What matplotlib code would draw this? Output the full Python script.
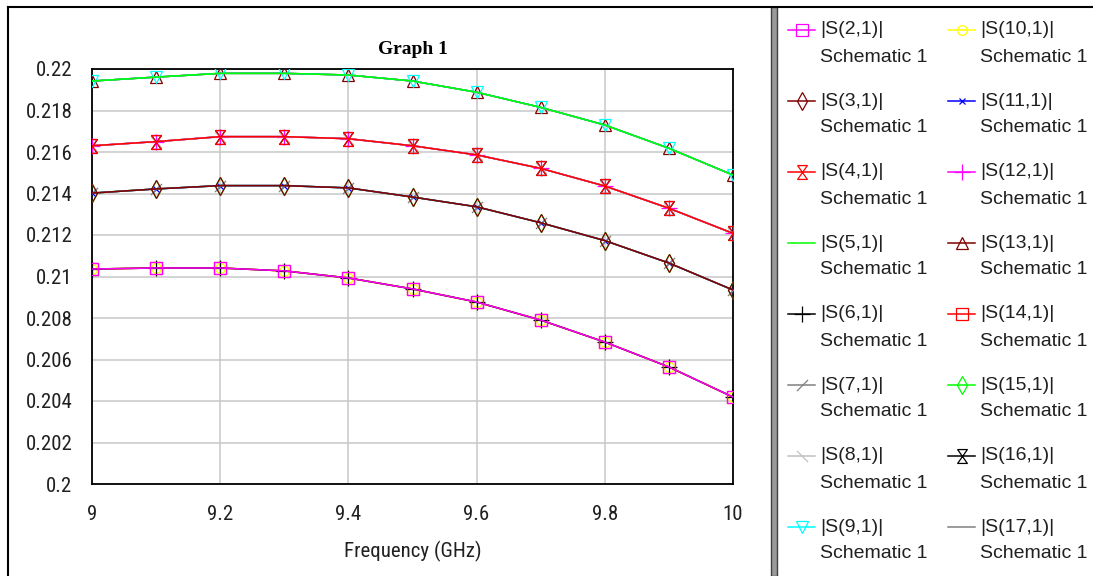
import matplotlib
matplotlib.use("Agg")
import matplotlib.pyplot as plt
from matplotlib.patches import Rectangle
from matplotlib.ticker import FuncFormatter
from matplotlib import font_manager

freq = [9.0, 9.1, 9.2, 9.3, 9.4, 9.5, 9.6, 9.7, 9.8, 9.9, 10.0]

# four groups of curves lie on top of each other
grp_a = [0.21036, 0.21041, 0.21041, 0.21027, 0.20993, 0.20940, 0.20877, 0.20790, 0.20684, 0.20564, 0.20419]
grp_b = [0.21402, 0.21422, 0.21438, 0.21438, 0.21427, 0.21383, 0.21336, 0.21259, 0.21173, 0.21065, 0.20935]
grp_c = [0.21630, 0.21650, 0.21674, 0.21674, 0.21664, 0.21630, 0.21586, 0.21521, 0.21436, 0.21329, 0.21208]
grp_d = [0.21942, 0.21961, 0.21979, 0.21979, 0.21971, 0.21942, 0.21888, 0.21815, 0.21730, 0.21618, 0.21489]

names = ["|S(%d,1)|" % k for k in range(2, 18)]
groups = [grp_a, grp_b, grp_c, grp_d]

hourglass = [(-0.7, 1), (0.7, 1), (-0.7, -1), (0.7, -1), (-0.7, 1)]
slash = [(-0.6, -0.6), (0.6, 0.6)]
bslash = [(-0.6, 0.6), (0.6, -0.6)]

styles = [
    dict(color="#ff00ff", marker="s", ms=8),
    dict(color="#800000", marker="d", ms=9),
    dict(color="#ff0000", marker=hourglass, ms=10),
    dict(color="#00ff00", marker=None),
    dict(color="#000000", marker="+", ms=11),
    dict(color="#808080", marker=slash, ms=8),
    dict(color="#c0c0c0", marker=bslash, ms=8),
    dict(color="#00ffff", marker="v", ms=8),
    dict(color="#ffff00", marker="o", ms=7),
    dict(color="#0000ff", marker="x", ms=5),
    dict(color="#ff00ff", marker="+", ms=11),
    dict(color="#800000", marker="^", ms=8),
    dict(color="#ff0000", marker="s", ms=8),
    dict(color="#00ff00", marker="d", ms=9),
    dict(color="#000000", marker=hourglass, ms=10),
    dict(color="#808080", marker=None),
]

# narrow face for the axis numbers if one is around
names_avail = set(f.name for f in font_manager.fontManager.ttflist)
narrow = None
for cand in ["Liberation Sans Narrow", "Arial Narrow", "Roboto Condensed", "DejaVu Sans Condensed"]:
    if cand in names_avail:
        narrow = cand
        break
if narrow is None:
    axis_font = dict(family=["Liberation Sans", "DejaVu Sans"], size=13)
else:
    axis_font = dict(family=[narrow, "DejaVu Sans"], size=15)

fig = plt.figure(figsize=(10.93, 5.76), dpi=100)
W, H = 1093, 576

# background frame
bg = fig.add_axes([0, 0, 1, 1], zorder=0)
bg.set_xlim(0, W)
bg.set_ylim(H, 0)
bg.axis("off")
bg.plot([8, W], [7, 7], color="black", lw=1.5)
bg.plot([8, 8], [7, H], color="black", lw=1.5)
bg.add_patch(Rectangle((771, 7), 6, H - 7, facecolor="#9a9a9a", edgecolor="#404040", lw=1))

ax = fig.add_axes([92 / W, 1 - 484 / H, (733 - 92) / W, (484 - 69) / H], zorder=1)

n = len(names)
for i in range(n - 1, -1, -1):
    st = styles[i]
    ax.plot(freq, groups[i % 4], color=st["color"], lw=1.1,
            marker=st["marker"], ms=st.get("ms", 0), mfc="none",
            mec=st["color"], mew=0.9, zorder=10 + (n - i))

ax.set_xlim(9, 10)
ax.set_ylim(0.2, 0.22)
ax.set_xticks([9, 9.2, 9.4, 9.6, 9.8, 10])
ax.set_yticks([0.2 + 0.002 * k for k in range(11)])
ax.xaxis.set_major_formatter(FuncFormatter(lambda v, p: "%g" % round(v, 3)))
ax.yaxis.set_major_formatter(FuncFormatter(lambda v, p: "%g" % round(v, 4)))
ax.tick_params(length=0, colors="#202020")
ax.tick_params(axis="y", pad=14)
ax.tick_params(axis="x", pad=15)
for lab in ax.get_xticklabels() + ax.get_yticklabels():
    lab.set_family(axis_font["family"])
    lab.set_size(axis_font["size"])
ax.grid(True, color="#c8c8c8", lw=1.1)
ax.set_axisbelow(True)
for s in ax.spines.values():
    s.set_color("black")
    s.set_linewidth(1.3)
ax.set_xlabel("Frequency (GHz)", fontsize=axis_font["size"], family=axis_font["family"],
              color="#202020", labelpad=12)
ax.set_title("Graph 1", fontfamily="Liberation Serif", fontweight="bold", fontsize=14, pad=11)

# legend panel, two columns of eight
for i in range(n):
    col = i // 8
    row = i % 8
    y0 = 30 + 71 * row
    x0 = 788 + 160 * col
    st = styles[i]
    bg.plot([x0, x0 + 27], [y0, y0], color=st["color"], lw=1.1)
    if st["marker"] is not None:
        bg.plot([x0 + 13.5], [y0], marker=st["marker"], ms=st["ms"], mfc="none",
                mec=st["color"], mew=0.9, lw=0)
    bg.text(x0 + 32, y0, names[i], fontsize=14, family=["Liberation Sans", "DejaVu Sans"],
            va="center", ha="left", color="#202020")
    bg.text(x0 + 32, y0 + 27, "Schematic 1", fontsize=14, family=["Liberation Sans", "DejaVu Sans"],
            va="center", ha="left", color="#202020")

fig.savefig("out.png", dpi=100)
